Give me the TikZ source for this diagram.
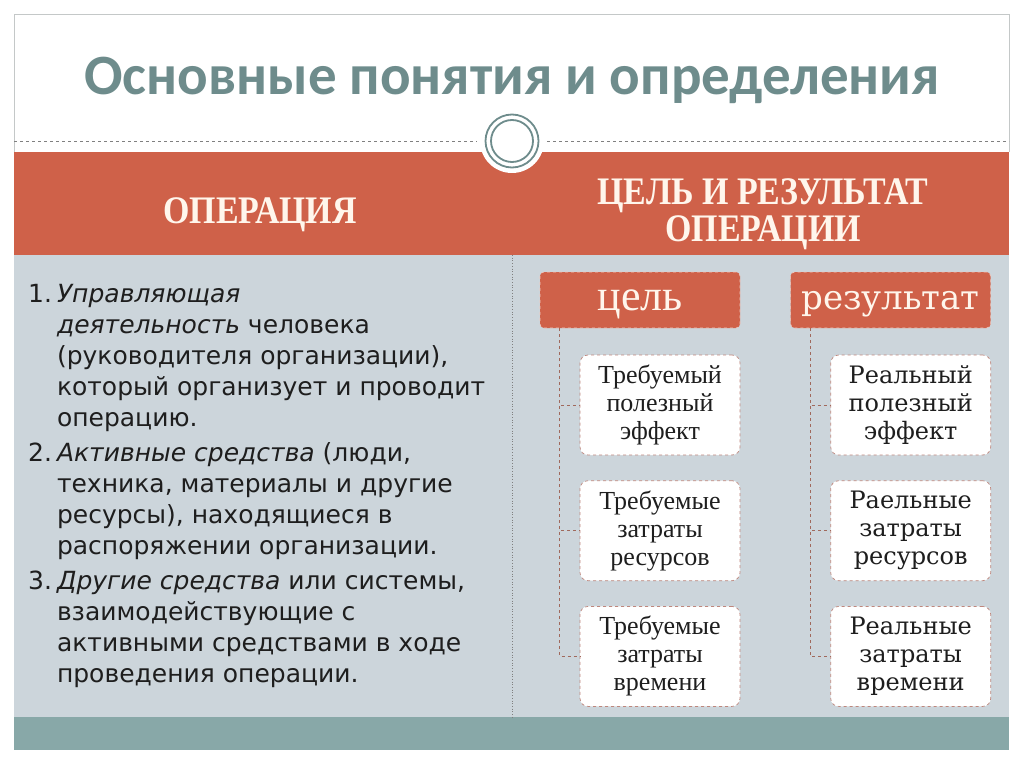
\documentclass[tikz,border=0pt]{standalone}
\usepackage{fontspec}
\setmainfont{Liberation Serif}
\setsansfont{DejaVu Sans}
\newfontfamily\titlefont{Carlito}
\newfontfamily\altserif{DejaVu Serif}
\usetikzlibrary{positioning}
\definecolor{bandred}{RGB}{207,97,73}
\definecolor{panelgray}{RGB}{204,213,219}
\definecolor{stripteal}{RGB}{136,168,168}
\definecolor{titleteal}{RGB}{110,140,140}
\definecolor{framegray}{RGB}{196,200,200}
\definecolor{headcream}{RGB}{255,246,236}
\definecolor{boxpink}{RGB}{242,200,190}
\definecolor{edgered}{RGB}{190,135,125}
\definecolor{linkbrown}{RGB}{160,105,92}
\definecolor{inkgray}{RGB}{30,30,30}
\begin{document}
\begin{tikzpicture}[x=1pt,y=-1pt,
  titletext/.style={inner sep=0pt,outer sep=0pt,text=titleteal,font=\titlefont\bfseries\fontsize{57}{64}\selectfont},
  headtext/.style={inner sep=0pt,outer sep=0pt,text=headcream,xscale=0.87,font=\bfseries\fontsize{39}{37}\selectfont,align=center},
  deftext/.style={inner sep=0pt,outer sep=0pt,text=inkgray,font=\sffamily\fontsize{25}{31}\selectfont,align=left,anchor=north west},
  goalbox/.style={fill=bandred,draw=boxpink,dashed,line width=0.6pt,rounded corners=4pt,minimum width=200pt,minimum height=56pt,inner sep=0pt,text depth=0pt,text=headcream},
  itembox/.style={fill=white,draw=edgered,dashed,line width=0.7pt,rounded corners=8pt,minimum width=160pt,minimum height=100pt,inner sep=0pt,align=center,text=inkgray},
  needbox/.style={itembox,font=\fontsize{26}{28}\selectfont},
  realbox/.style={itembox,font=\altserif\fontsize{24}{28}\selectfont},
  link/.style={draw=linkbrown,dashed,line width=0.7pt}]
\path[use as bounding box] (0,0) rectangle (1024,767);
\path[fill=white] (0,0) rectangle (1024,767);
\path[fill=bandred] (14,152) rectangle (1009,255);
\path[fill=panelgray] (14,255) rectangle (1009,717);
\path[fill=stripteal] (14,717) rectangle (1009,750);
\draw[framegray,line width=0.8pt] (14,152) -- (14,14) -- (1009,14) -- (1009,152);
\draw[gray,dashed,line width=0.8pt] (14,141) -- (477,141) (547,141) -- (1009,141);
\fill[white] (512,141) circle (32);
\draw[titleteal,line width=1.8pt] (512,141) circle (26.5) (512,141) circle (21);
\draw[gray,dotted,line width=0.7pt] (512,255) -- (512,717);
\node[titletext] (title) at (512,80) {Основные понятия и определения};
\node[headtext] (opHead) at (260,215) {ОПЕРАЦИЯ};
\node[headtext] (goalHead) at (763,214) {ЦЕЛЬ И РЕЗУЛЬТАТ\\ОПЕРАЦИИ};
\node[deftext] (op1) at (57,281) {\strut\textit{Управляющая}\\\textit{деятельность} человека\\(руководителя организации),\\который организует и проводит\\операцию.\strut};
\node[deftext,below right=4pt and 0pt of op1.south west] (op2) {\strut\textit{Активные средства} (люди,\\техника, материалы и другие\\ресурсы), находящиеся в\\распоряжении организации.\strut};
\node[deftext,below right=4pt and 0pt of op2.south west] (op3) {\strut\textit{Другие средства} или системы,\\взаимодействующие с\\активными средствами в ходе\\проведения операции.\strut};
\node[deftext,anchor=north east] (n1) at ([xshift=-5pt]op1.north west) {\strut1.};
\node[deftext,anchor=north east] (n2) at ([xshift=-5pt]op2.north west) {\strut2.};
\node[deftext,anchor=north east] (n3) at ([xshift=-5pt]op3.north west) {\strut3.};
\node[goalbox,font=\fontsize{44}{48}\selectfont] (goal) at (640,300) {цель};
\node[goalbox,font=\altserif\fontsize{34}{40}\selectfont,right=50pt of goal] (result) {результат};
\node[needbox] (need1) at (660,405) {Требуемый\\полезный\\эффект};
\node[needbox,below=25pt of need1] (need2) {Требуемые\\затраты\\ресурсов};
\node[needbox,below=25pt of need2] (need3) {Требуемые\\затраты\\времени};
\node[realbox,right=90pt of need1] (real1) {Реальный\\полезный\\эффект};
\node[realbox,right=90pt of need2] (real2) {Раельные\\затраты\\ресурсов};
\node[realbox,right=90pt of need3] (real3) {Реальные\\затраты\\времени};
\coordinate (goalTrunk) at ([xshift=20pt]goal.south west);
\coordinate (resultTrunk) at ([xshift=20pt]result.south west);
\foreach \k in {need1,need2,need3} \draw[link] (goalTrunk) |- (\k.west);
\foreach \k in {real1,real2,real3} \draw[link] (resultTrunk) |- (\k.west);
\end{tikzpicture}
\end{document}
